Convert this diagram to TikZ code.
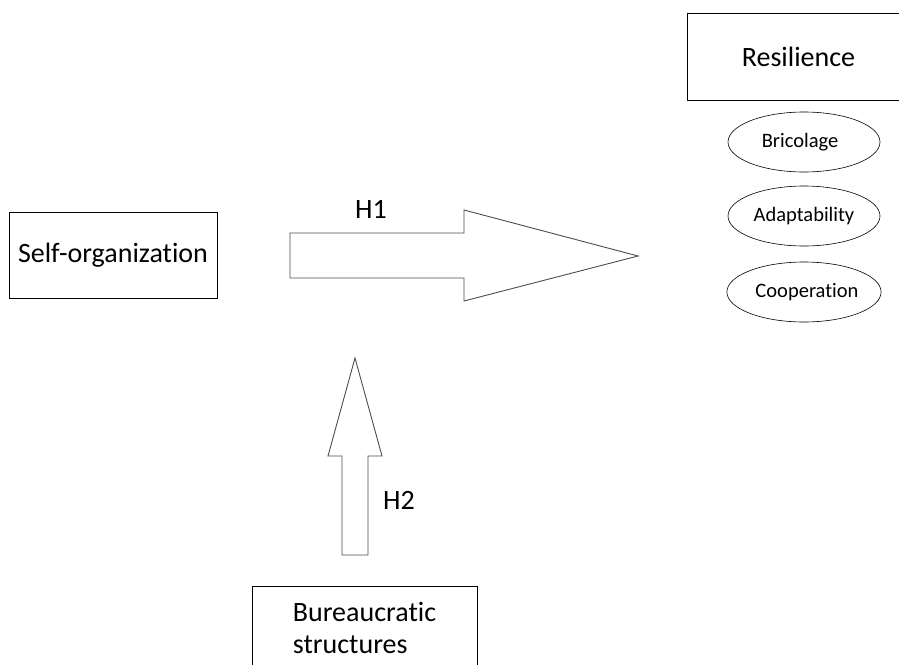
\documentclass[tikz,border=0pt]{standalone}
\usepackage{fontspec}
\setmainfont[Ligatures=NoCommon]{Carlito}
\usetikzlibrary{shapes.geometric}
\tikzset{
    box/.style={draw, rectangle, line width=0.8pt, inner sep=0pt},
    trait/.style={draw, ellipse, line width=0.6pt, minimum width=152pt, minimum height=60pt, inner sep=0pt, font=\fontsize{20.5}{24}\selectfont},
    big/.style={font=\fontsize{28}{32}\selectfont},
    blockarrow/.style={draw=black!70, line width=0.9pt, line join=miter}
}
\begin{document}
\begin{tikzpicture}[x=1pt, y=-1pt]
    \clip (0,0) rectangle (899,664);

    %(a)
    \node[box, big, minimum width=208pt, minimum height=86pt] (SO) at (113, 255) {Self-organization};
    \node[box, big, minimum width=223pt, minimum height=87pt] (R) at (798.5, 56.5) {Resilience};
    \node[trait] (Bri) at (804, 142) {\hspace*{-8pt}Bricolage};
    \node[trait] (Ada) at (804, 216) {Adaptability};
    \node[trait] (Coo) at (804, 292) {\hspace*{6pt}Cooperation};

    %(b)
    \draw[blockarrow] (290,233) -- (464,233) -- (464,210) -- (638,256) -- (464,301) -- (464,278) -- (290,278) -- cycle;
    \node[big] (H1) at (371, 209) {H1};

    %(c)
    \draw[blockarrow] (342,555) -- (342,456) -- (328,456) -- (355,358) -- (382,456) -- (368,456) -- (368,555) -- cycle;
    \node[big] (H2) at (399, 500) {H2};
    \node[box, big, align=left, minimum width=225pt, minimum height=84pt] (BS) at (364.5, 628) {Bureaucratic\\structures};
\end{tikzpicture}
\end{document}
